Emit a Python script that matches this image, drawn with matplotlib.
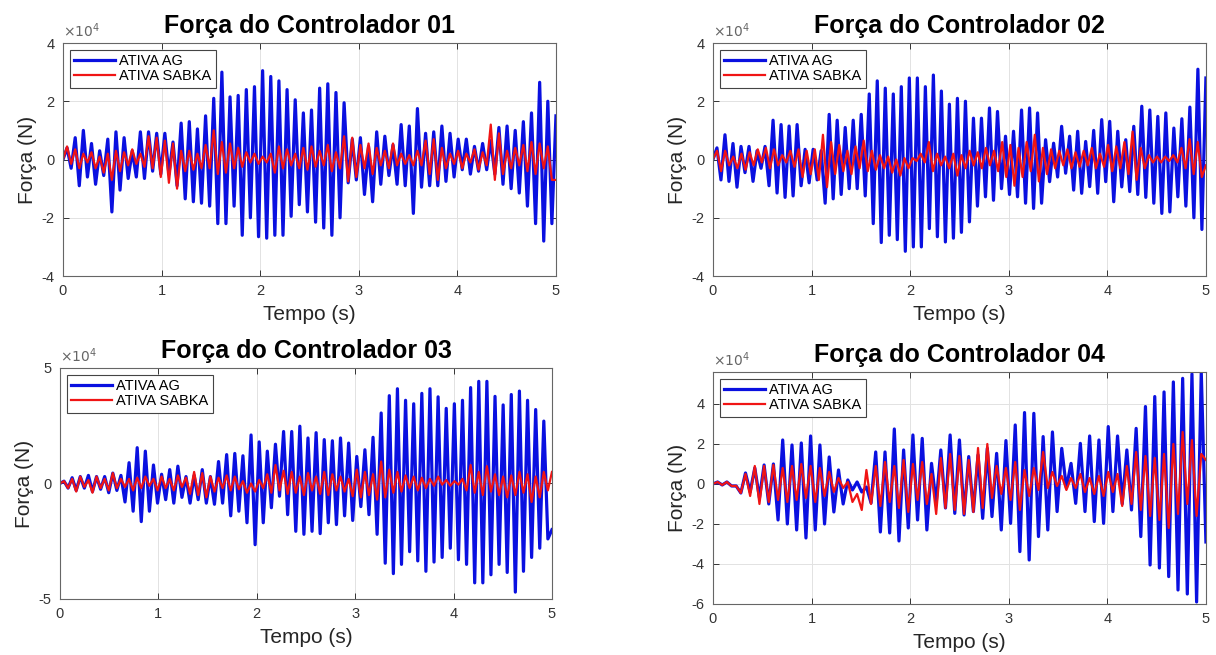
import matplotlib.pyplot as plt
from matplotlib.ticker import FuncFormatter
from itertools import zip_longest
import numpy as np

plt.rcParams['font.family'] = ['Liberation Sans', 'DejaVu Sans']
plt.rcParams['axes.unicode_minus'] = False

# peaks / valleys of each force signal (units of 1e4 N)
c1_ag_max = [0.4, 0.75, 1.0, 0.55, 0.3, 0.7, 0.95, 0.75, 0.3, 0.95, 0.95, 0.9,
             0.9, 0.6, 1.25, 1.3, 1.05, 1.5, 2.1, 3.0, 2.15, 2.2, 2.4, 2.5,
             3.05, 2.85, 2.7, 2.4, 2.05, 1.6, 1.7, 2.45, 2.6, 2.3, 1.95, 0.7,
             0.75, 0.45, 0.95, 0.8, 0.5, 1.2, 1.15, 1.75, 0.9, 0.95, 1.15, 0.9,
             0.7, 0.7, 0.45, 0.55, 0.65, 1.1, 1.15, 1.0, 1.3, 1.6, 2.65, 2.0]
c1_ag_min = [-0.3, -0.9, -0.6, -0.85, -0.55, -1.8, -1.05, -0.65, -0.6, -0.65, -0.4, -0.5,
             -0.5, -0.9, -1.35, -1.45, -1.5, -1.6, -2.2, -2.2, -1.6, -2.6, -2.0, -2.65,
             -2.7, -2.6, -2.6, -1.95, -1.55, -1.8, -2.15, -2.35, -2.6, -2.0, -0.8, -0.7,
             -1.2, -1.45, -0.85, -0.55, -0.85, -0.9, -1.85, -0.95, -0.9, -0.9, -0.75, -0.6,
             -0.35, -0.5, -0.4, -0.35, -0.5, -0.85, -1.0, -1.15, -1.6, -2.2, -2.8, -2.2]
c1_ag_end = 1.5
c1_sb_max = [0.45, 0.35, 0.2, 0.25, 0.1, 0.2, 0.3, 0.25, 0.35, 0.2, 0.8, 0.75,
             0.65, 0.55, 0.3, 0.3, 0.2, 0.5, 1.0, 0.6, 0.55, 0.4, 0.25, 0.2,
             0.1, 0.2, 0.45, 0.35, 0.2, 0.4, 0.45, 0.3, 0.5, 0.25, 0.8, 0.75,
             0.5, 0.55, 0.4, 0.3, 0.55, 0.2, 0.15, 0.3, 0.65, 0.7, 0.4, 0.2,
             0.3, 0.2, 0.35, 0.25, 1.2, 0.9, 0.3, 0.4, 0.5, 0.6, 0.55, 0.45]
c1_sb_min = [-0.15, -0.3, -0.1, -0.3, -0.45, -0.7, -0.4, -0.2, -0.15, -0.25, -0.3, -0.6,
             -0.8, -1.0, -0.4, -0.35, -0.3, -0.3, -0.5, -0.45, -0.3, -0.25, -0.1, -0.15,
             -0.1, -0.45, -0.3, -0.2, -0.3, -0.35, -0.25, -0.2, -0.4, -0.3, -0.75, -0.6,
             -0.3, -0.5, -0.2, -0.3, -0.2, -0.15, -0.2, -0.2, -0.5, -0.7, -0.3, -0.15,
             -0.3, -0.1, -0.35, -0.2, -0.7, -0.5, -0.3, -0.2, -0.4, -0.5, -0.3, -0.7]
c1_sb_end = -0.7

c2_ag_max = [0.4, 0.85, 0.55, 0.45, 0.45, 0.3, 0.45, 1.35, 1.2, 1.15, 1.2, 0.35,
             0.35, 0.3, 1.55, 1.35, 1.1, 1.35, 1.55, 2.25, 2.7, 2.45, 2.25, 2.5,
             2.8, 2.8, 2.5, 2.9, 2.35, 1.9, 2.1, 2.0, 1.42, 1.42, 1.77, 1.65,
             0.8, 0.97, 1.7, 1.77, 1.6, 0.68, 0.56, 1.14, 0.8, 0.97, 0.62, 1.0,
             1.37, 1.31, 0.97, 0.68, 1.14, 1.83, 1.7, 1.48, 1.6, 1.08, 1.4, 1.8, 3.1]
c2_ag_min = [-0.7, -0.75, -0.95, -0.45, -0.75, -0.3, -0.9, -1.15, -1.3, -1.25, -0.9, -0.8,
             -0.7, -1.5, -1.35, -1.2, -1.0, -1.0, -1.25, -2.2, -2.85, -2.6, -2.75, -3.15,
             -3.0, -3.0, -2.37, -2.65, -2.83, -2.7, -2.5, -2.14, -1.6, -1.28, -1.4, -1.0,
             -1.2, -1.28, -1.5, -1.68, -1.5, -0.76, -0.6, -0.47, -1.05, -1.16, -0.93, -1.16,
             -0.76, -1.45, -0.94, -1.1, -1.2, -1.3, -1.5, -1.85, -1.8, -1.28, -1.6, -2.0, -2.4]
c2_ag_end = 2.8
c2_sb_max = [0.3, 0.3, 0.1, 0.2, 0.25, 0.35, 0.4, 0.35, 0.15, 0.3, 0.35, 0.3,
             0.35, 0.85, 0.6, 0.5, 0.3, 0.45, 0.65, 0.3, 0.15, 0.1, 0.0, 0.05,
             0.05, 0.2, 0.6, 0.2, 0.1, 0.2, 0.15, 0.3, 0.25, 0.4, 0.3, 0.6,
             0.5, 0.4, 0.6, 0.85, 0.4, 0.35, 0.3, 0.35, 0.25, 0.3, 0.4, 0.2,
             0.5, 0.45, 0.6, 0.96, 0.4, 0.15, 0.1, 0.1, 0.15, 0.4, 0.7, 0.6]
c2_sb_min = [-0.4, -0.2, -0.3, -0.35, -0.2, -0.1, -0.3, -0.2, -0.1, -0.25, -0.6, -0.5,
             -0.7, -0.95, -0.5, -0.4, -0.5, -0.3, -0.4, -0.35, -0.3, -0.45, -0.55, -0.3,
             -0.05, -0.1, -0.4, -0.2, -0.3, -0.55, -0.3, -0.2, -0.3, -0.2, -0.4, -0.6,
             -0.9, -0.6, -0.4, -0.75, -0.5, -0.3, -0.2, -0.3, -0.25, -0.2, -0.3, -0.25,
             -0.4, -0.3, -0.5, -0.7, -0.3, -0.1, -0.1, -0.05, -0.1, -0.3, -0.5, -0.6]
c2_sb_end = -0.2

c3_ag_max = [0.1, 0.25, 0.3, 0.35, 0.3, 0.3, 0.45, 0.35, 0.9, 1.55, 1.4, 0.8,
             0.4, 0.6, 0.75, 0.3, 0.35, 0.6, 0.3, 0.95, 1.25, 1.3, 1.2, 2.1,
             1.8, 1.4, 1.7, 2.25, 2.25, 2.48, 1.97, 2.2, 1.9, 1.85, 1.97, 1.75,
             1.17, 1.46, 2.0, 3.05, 3.8, 4.1, 3.6, 3.45, 3.9, 4.1, 3.75, 3.25,
             3.45, 3.6, 4.15, 4.42, 4.42, 3.77, 3.4, 3.85, 4.0, 3.6, 3.2, 2.7]
c3_ag_min = [-0.2, -0.3, -0.2, -0.35, -0.25, -0.4, -0.3, -0.8, -1.2, -1.65, -1.2, -0.85,
             -0.7, -0.85, -0.6, -0.85, -0.7, -0.85, -0.9, -0.85, -1.4, -1.2, -1.7, -2.65,
             -1.7, -1.05, -0.55, -1.35, -2.07, -2.2, -2.07, -2.17, -1.7, -1.78, -1.4, -1.6,
             -1.0, -1.35, -2.2, -3.45, -3.9, -3.5, -2.95, -3.35, -3.8, -3.4, -3.2, -2.8,
             -3.3, -3.5, -4.3, -4.3, -3.95, -3.5, -3.85, -4.7, -3.8, -3.2, -2.8, -2.4]
c3_ag_end = -2.0
c3_sb_max = [0.1, 0.2, 0.3, 0.15, 0.3, 0.2, 0.45, 0.2, 0.2, 0.25, 0.3, 0.2,
             0.3, 0.2, 0.35, 0.25, 0.5, 0.45, 0.3, 0.25, 0.35, 0.3, 0.1, 0.0,
             0.15, 0.4, 0.8, 0.55, 0.5, 0.3, 0.45, 0.3, 0.5, 0.4, 0.3, 0.2,
             0.6, 0.5, 0.4, 0.95, 0.6, 0.5, 0.35, 0.3, 0.25, 0.2, 0.3, 0.15,
             0.1, 0.2, 0.8, 0.5, 0.75, 0.4, 0.3, 0.35, 0.5, 0.4, 0.3, 0.5]
c3_sb_min = [-0.2, -0.35, -0.15, -0.4, -0.2, -0.3, -0.2, -0.15, -0.3, -0.2, -0.1, -0.3,
             -0.2, -0.3, -0.15, -0.45, -0.5, -0.6, -0.35, -0.2, -0.3, -0.25, -0.4, -0.35,
             -0.2, -0.4, -0.3, -0.45, -0.4, -0.5, -0.3, -0.45, -0.5, -0.3, -0.35, -0.55,
             -0.6, -0.5, -0.7, -0.6, -0.4, -0.35, -0.2, -0.3, -0.2, -0.1, -0.05, -0.1,
             -0.05, -0.3, -0.4, -0.5, -0.35, -0.5, -0.6, -0.5, -0.4, -0.8, -0.6, -0.3]
c3_sb_end = 0.5

c4_ag_max = [0.1, 0.1, -0.1, 0.55, 0.8, 0.95, 1.0, 2.2, 1.95, 2.05, 2.4, 1.95, 1.35,
             0.7, 0.2, 0.1, -0.15, 1.6, 1.6, 2.75, 1.7, 2.45, 2.28, 1.03, 1.7, 2.45,
             2.2, 1.37, 1.45, 1.78, 1.53, 2.17, 2.95, 3.57, 3.53, 2.37, 2.6, 1.78, 1.03,
             2.03, 2.4, 2.2, 2.87, 2.4, 1.7, 2.78, 3.87, 4.37, 4.6, 5.1, 5.28, 5.5, 5.6]
c4_ag_min = [-0.05, -0.1, -0.45, -0.4, -0.7, -1.0, -1.8, -2.0, -2.3, -2.7, -2.3, -2.0, -1.4,
             -1.0, -0.3, -0.4, -0.95, -2.4, -2.45, -2.85, -2.2, -1.8, -2.3, -0.97, -1.2, -1.47,
             -1.55, -1.38, -1.72, -1.63, -2.3, -1.97, -3.38, -3.8, -2.63, -2.3, -1.38, -0.2, -0.97,
             -1.38, -1.88, -1.97, -1.38, -1.0, -1.3, -2.63, -4.05, -4.2, -4.63, -5.3, -5.5, -5.9, -2.9]
c4_ag_end = None
c4_sb_max = [0.1, 0.1, -0.1, 0.5, 0.9, 0.9, 0.95, 0.8, 0.9, 1.0, 0.9, 0.8, 0.6,
             0.3, 0.1, -0.5, 0.7, 0.9, 1.1, 0.9, 1.2, 1.0, 1.1, 0.5, 1.3, 1.5,
             1.4, 1.2, 1.8, 2.0, 0.9, 0.8, 1.1, 0.7, 0.8, 1.6, 0.6, 0.4, 0.3,
             0.5, 0.3, 0.4, 0.6, 0.5, 0.9, 1.6, 1.4, 1.3, 1.5, 2.0, 2.6, 2.2, 1.5]
c4_sb_min = [-0.05, -0.1, -0.45, -0.6, -1.0, -0.9, -0.8, -0.9, -0.8, -0.7, -0.9, -0.6, -0.4,
             -0.2, -0.9, -1.3, -1.0, -1.1, -0.9, -1.2, -1.4, -0.8, -1.0, -1.5, -1.2, -1.3,
             -1.5, -1.4, -1.2, -0.7, -0.5, -0.8, -1.3, -0.6, -0.3, -0.2, -0.1, -0.3, -0.2,
             -0.4, -0.5, -0.6, -0.4, -1.1, -1.0, -1.3, -1.6, -1.8, -2.2, -1.5, -1.0, -1.6, 1.2]
c4_sb_end = None

titles = ['Força do Controlador 01', 'Força do Controlador 02',
          'Força do Controlador 03', 'Força do Controlador 04']
labels = ['ATIVA AG', 'ATIVA SABKA']


def signal(peaks, valleys, end=None, t_end=5.0):
    vals = [0.0]
    for p, v in zip_longest(peaks, valleys):
        if p is not None:
            vals.append(p)
        if v is not None:
            vals.append(v)
    if end is not None:
        vals.append(end)
    y = np.array(vals) * 1e4
    t = np.linspace(0, t_end, len(y))
    return t, y


panels = [
    ([0.0518, 0.5786, 0.4054, 0.3557], (c1_ag_max, c1_ag_min, c1_ag_end),
     (c1_sb_max, c1_sb_min, c1_sb_end), (-4e4, 4e4), [-4e4, -2e4, 0, 2e4, 4e4]),
    ([0.5863, 0.5786, 0.4054, 0.3557], (c2_ag_max, c2_ag_min, c2_ag_end),
     (c2_sb_max, c2_sb_min, c2_sb_end), (-4e4, 4e4), [-4e4, -2e4, 0, 2e4, 4e4]),
    ([0.0493, 0.0855, 0.4046, 0.3527], (c3_ag_max, c3_ag_min, c3_ag_end),
     (c3_sb_max, c3_sb_min, c3_sb_end), (-5e4, 5e4), [-5e4, 0, 5e4]),
    ([0.5863, 0.0779, 0.4054, 0.3542], (c4_ag_max, c4_ag_min, c4_ag_end),
     (c4_sb_max, c4_sb_min, c4_sb_end), (-6e4, 5.6e4), [-6e4, -4e4, -2e4, 0, 2e4, 4e4]),
]

fig = plt.figure(figsize=(12.16, 6.55), dpi=100)

for (rect, ag, sb, ylim, yticks), title in zip(panels, titles):
    ax = fig.add_axes(rect)
    t1, y1 = signal(*ag)
    t2, y2 = signal(*sb)
    ax.plot(t1, y1, color='#0a10e0', lw=2.3, label=labels[0], solid_joinstyle='round')
    ax.plot(t2, y2, color='#f01414', lw=1.6, label=labels[1], solid_joinstyle='round')
    ax.set_xlim(0, 5)
    ax.set_ylim(*ylim)
    ax.set_xticks([0, 1, 2, 3, 4, 5])
    ax.set_yticks(yticks)
    ax.yaxis.set_major_formatter(FuncFormatter(lambda v, pos: '%g' % (v / 1e4)))
    ax.text(0.0, 1.012, r'$\times10^{4}$', transform=ax.transAxes, fontsize=10,
            color='#666666', ha='left', va='bottom')
    ax.grid(True, color='#e2e2e2', lw=0.7)
    ax.set_axisbelow(True)
    ax.tick_params(direction='in', top=True, right=True, length=4, width=0.7,
                   labelsize=10.5, colors='#333333', pad=6)
    for s in ax.spines.values():
        s.set_color('#666666')
        s.set_linewidth(0.8)
    ax.set_title(title, fontsize=18, fontweight='bold', pad=7)
    ax.set_xlabel('Tempo (s)', fontsize=15, color='#262626', labelpad=5)
    ax.set_ylabel('Força (N)', fontsize=15, color='#262626', labelpad=3)
    leg = ax.legend(loc='upper left', fontsize=10.5, fancybox=False, framealpha=1,
                    edgecolor='#444444', handlelength=2.8, borderpad=0.3,
                    labelspacing=0.1, handletextpad=0.3, borderaxespad=0.45)
    leg.get_frame().set_linewidth(0.8)

fig.savefig('out.png', dpi=100)
